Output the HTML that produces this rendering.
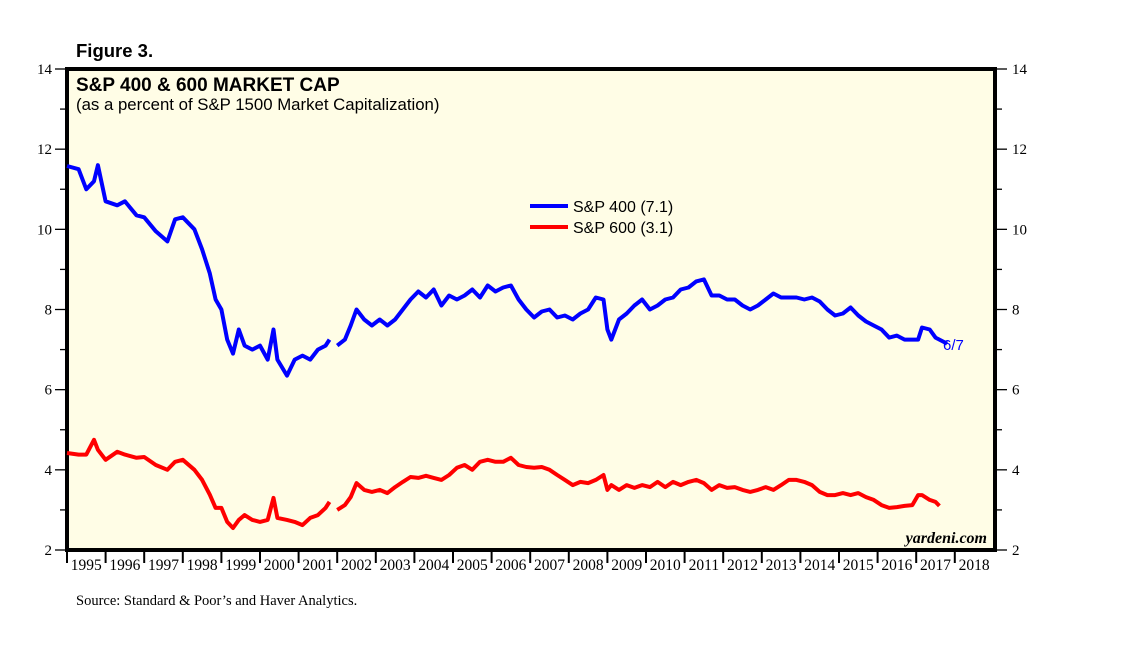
<!DOCTYPE html>
<html><head><meta charset="utf-8"><style>
body{margin:0;background:#fff;}
svg text{font-family:"Liberation Sans",sans-serif;}
.ser{font-family:"Liberation Serif",serif !important;}
</style></head><body>
<svg width="1138" height="641" xmlns="http://www.w3.org/2000/svg">
<text x="76" y="57" font-size="18.5" font-weight="bold">Figure 3.</text>
<rect x="67" y="69" width="928" height="481" fill="#fffde6" stroke="#000" stroke-width="4"/>
<text x="76" y="91" font-size="19" font-weight="bold">S&amp;P 400 &amp; 600 MARKET CAP</text>
<text x="76" y="110" font-size="16.8">(as a percent of S&amp;P 1500 Market Capitalization)</text>
<g id="axes"></g>
<g id="series"></g>
<line x1="530" y1="206" x2="568" y2="206" stroke="#0000ff" stroke-width="4"/>
<text x="573" y="212" font-size="16" fill="#000">S&amp;P 400 (7.1)</text>
<line x1="530" y1="227" x2="568" y2="227" stroke="#ff0000" stroke-width="4"/>
<text x="573" y="233" font-size="16" fill="#000">S&amp;P 600 (3.1)</text>
<text x="943" y="350" font-size="15" fill="#0000ff">6/7</text>
<text x="987" y="543" font-size="16" font-weight="bold" font-style="italic" text-anchor="end" class="ser">yardeni.com</text>
<text x="76" y="605" font-size="14.5" class="ser">Source: Standard &amp; Poor’s and Haver Analytics.</text>
</svg>
<script>
const yTicks=[2,4,6,8,10,12,14];
const years=[1995,1996,1997,1998,1999,2000,2001,2002,2003,2004,2005,2006,2007,2008,2009,2010,2011,2012,2013,2014,2015,2016,2017,2018];
const dates=[1995.0,1995.3,1995.5,1995.7,1995.8,1996.0,1996.3,1996.5,1996.8,1997.0,1997.3,1997.6,1997.8,1998.0,1998.3,1998.5,1998.7,1998.85,1999.0,1999.15,1999.3,1999.45,1999.6,1999.8,2000.0,2000.2,2000.35,2000.45,2000.7,2000.9,2001.1,2001.3,2001.5,2001.7,2001.8,2001.9,2002.0,2002.2,2002.35,2002.5,2002.7,2002.9,2003.1,2003.3,2003.5,2003.7,2003.9,2004.1,2004.3,2004.5,2004.7,2004.9,2005.1,2005.3,2005.5,2005.7,2005.9,2006.1,2006.3,2006.5,2006.7,2006.9,2007.1,2007.3,2007.5,2007.7,2007.9,2008.1,2008.3,2008.5,2008.7,2008.9,2009.0,2009.1,2009.3,2009.5,2009.7,2009.9,2010.1,2010.3,2010.5,2010.7,2010.9,2011.1,2011.3,2011.5,2011.7,2011.9,2012.1,2012.3,2012.5,2012.7,2012.9,2013.1,2013.3,2013.5,2013.7,2013.9,2014.1,2014.3,2014.5,2014.7,2014.9,2015.1,2015.3,2015.5,2015.7,2015.9,2016.1,2016.3,2016.5,2016.7,2016.9,2017.05,2017.15,2017.35,2017.5,2017.6,2017.8];
const sp400=[11.58,11.5,11.0,11.2,11.6,10.7,10.6,10.7,10.35,10.3,9.95,9.7,10.25,10.3,10.0,9.5,8.9,8.25,8.0,7.25,6.9,7.5,7.1,7.0,7.1,6.75,7.5,6.75,6.35,6.75,6.85,6.75,7.0,7.1,7.25,null,7.1,7.25,7.6,8.0,7.75,7.6,7.75,7.6,7.75,8.0,8.25,8.45,8.3,8.5,8.1,8.35,8.25,8.35,8.5,8.3,8.6,8.45,8.55,8.6,8.25,8.0,7.8,7.95,8.0,7.8,7.85,7.75,7.9,8.0,8.3,8.25,7.5,7.25,7.75,7.9,8.1,8.25,8.0,8.1,8.25,8.3,8.5,8.55,8.7,8.75,8.35,8.35,8.25,8.25,8.1,8.0,8.1,8.25,8.4,8.3,8.3,8.3,8.25,8.3,8.2,8.0,7.85,7.9,8.05,7.85,7.7,7.6,7.5,7.3,7.35,7.25,7.25,7.25,7.55,7.5,7.3,7.25,7.15];
const sp600=[4.42,4.38,4.38,4.75,4.5,4.25,4.45,4.38,4.3,4.32,4.12,4.0,4.2,4.25,4.0,3.75,3.38,3.05,3.05,2.7,2.55,2.75,2.87,2.75,2.7,2.75,3.3,2.8,2.75,2.7,2.62,2.8,2.87,3.05,3.2,null,3.0,3.12,3.32,3.67,3.5,3.45,3.5,3.42,3.57,3.7,3.82,3.8,3.85,3.8,3.75,3.87,4.05,4.12,4.0,4.2,4.25,4.2,4.2,4.3,4.12,4.07,4.05,4.07,4.0,3.87,3.75,3.62,3.7,3.67,3.75,3.87,3.5,3.62,3.5,3.62,3.55,3.62,3.57,3.7,3.57,3.7,3.62,3.7,3.75,3.67,3.5,3.62,3.55,3.57,3.5,3.45,3.5,3.57,3.5,3.62,3.75,3.75,3.7,3.62,3.45,3.37,3.37,3.42,3.37,3.42,3.32,3.25,3.12,3.05,3.07,3.1,3.12,3.37,3.37,3.25,3.2,3.1];
const NS="http://www.w3.org/2000/svg";
const X0=67,X1=993.4,Y0=550,Y1=69;
function xs(d){return X0+(d-1995)/24*(X1-X0);}
function ys(v){return Y0-(v-2)/12*(Y0-Y1);}
const ax=document.getElementById('axes');
function mk(t,a,p){const e=document.createElementNS(NS,t);for(const k in a)e.setAttribute(k,a[k]);(p||ax).appendChild(e);return e;}
for(let v=2;v<=14;v++){
  const y=ys(v),major=v%2===0,len=major?12:7;
  const l1=mk('line',{x1:X0-len,y1:y,x2:X0,y2:y,stroke:'#000','stroke-width':1.3});
  
  
  const l2=mk('line',{x1:995,y1:y,x2:995+len,y2:y,stroke:'#000','stroke-width':1.3});
  
  
}
yTicks.forEach(v=>{
  const t1=mk('text',{x:52,y:ys(v)+5,'font-size':15,'text-anchor':'end',class:'ser'});t1.textContent=v;
  
  
  const t2=mk('text',{x:1012,y:ys(v)+5,'font-size':15,class:'ser'});t2.textContent=v;
  
  
});
years.forEach(yr=>{
  const x=xs(yr);
  const l=mk('line',{x1:x,y1:550,x2:x,y2:563,stroke:'#000','stroke-width':2});
  
  
  const t=mk('text',{x:xs(yr+0.5),y:570,'font-size':15.5,'text-anchor':'middle',class:'ser'});t.textContent=yr;
  
  
});
const sg=document.getElementById('series');
function draw(vals,color,name){
  let d='',pen=false;
  vals.forEach((v,i)=>{if(v===null){pen=false;return;}d+=(pen?'L':'M')+xs(dates[i]).toFixed(1)+' '+ys(v).toFixed(1)+' ';pen=true;});
  const p=mk('path',{d:d,fill:'none',stroke:color,'stroke-width':4,'stroke-linejoin':'round'},sg);
  
  
}
draw(sp400,'#0000ff','sp400-line');
draw(sp600,'#ff0000','sp600-line');
</script>
</body></html>
